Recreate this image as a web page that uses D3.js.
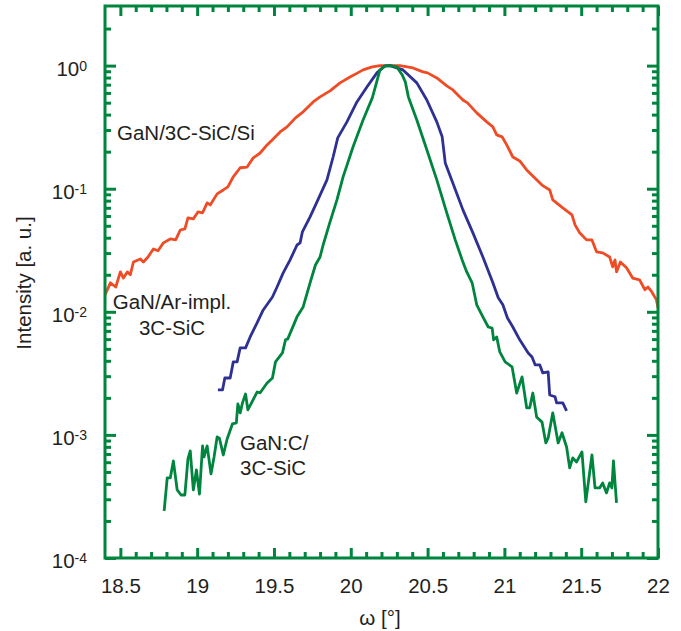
<!DOCTYPE html>
<html>
<head>
<meta charset="utf-8">
<script src="https://cdnjs.cloudflare.com/ajax/libs/d3/7.8.5/d3.min.js"></script>
<style>
  body { margin: 0; background: #fff; }
  text { font-family: "Liberation Sans", Arial, sans-serif; fill: #231f20; }
</style>
</head>
<body>
<div id="main"></div>
<script>
// rocking curves, [omega (deg), normalised intensity]
const gan3cSiCSi = [
  [18.40,0.0137],[18.435,0.0172],[18.47,0.0159],[18.50,0.0211],[18.52,0.0188],[18.545,0.0211],
  [18.565,0.0200],[18.585,0.0254],[18.63,0.0269],[18.65,0.0254],[18.68,0.0279],[18.715,0.0324],
  [18.745,0.0313],[18.78,0.0363],[18.825,0.0391],[18.86,0.0384],[18.89,0.0462],[18.92,0.0471],
  [18.94,0.0579],[18.975,0.0569],[19.005,0.0647],[19.035,0.0636],[19.065,0.0767],[19.085,0.0738],
  [19.13,0.0908],[19.17,0.0977],[19.20,0.1035],[19.235,0.125],[19.28,0.148],[19.325,0.150],
  [19.365,0.178],[19.41,0.195],[19.455,0.227],[19.495,0.254],[19.54,0.289],[19.585,0.318],
  [19.64,0.376],[19.69,0.421],[19.755,0.507],[19.80,0.557],[19.865,0.623],[19.93,0.724],
  [19.995,0.809],[20.045,0.873],[20.08,0.923],[20.14,0.976],[20.19,0.998],[20.255,1.0],
  [20.32,0.998],[20.405,0.957],[20.47,0.889],[20.50,0.873],[20.56,0.794],[20.625,0.684],
  [20.665,0.635],[20.73,0.526],[20.76,0.498],[20.82,0.413],[20.885,0.349],[20.925,0.318],
  [20.95,0.274],[20.985,0.264],[21.015,0.227],[21.055,0.181],[21.10,0.168],[21.145,0.142],
  [21.21,0.118],[21.245,0.107],[21.295,0.0977],[21.315,0.0811],[21.38,0.0698],[21.44,0.0612],
  [21.46,0.0508],[21.49,0.0438],[21.535,0.0384],[21.57,0.0384],[21.60,0.0307],[21.64,0.0301],
  [21.685,0.0279],[21.705,0.0232],[21.72,0.0264],[21.73,0.0211],[21.755,0.0254],[21.795,0.0228],
  [21.835,0.0188],[21.88,0.0182],[21.915,0.0151],[21.935,0.0159],[21.96,0.0145],[21.99,0.0125],
  [22.0,0.0108]
];

const ganArImpl = [
  [19.135,0.00232],[19.165,0.00232],[19.18,0.00290],[19.215,0.00290],[19.235,0.00392],[19.26,0.00392],
  [19.28,0.00509],[19.315,0.00509],[19.345,0.00625],[19.39,0.00813],[19.43,0.01035],[19.49,0.0132],
  [19.52,0.0159],[19.56,0.0207],[19.605,0.0264],[19.65,0.0349],[19.67,0.0363],[19.685,0.0446],
  [19.735,0.0590],[19.78,0.0782],[19.845,0.118],[19.885,0.181],[19.915,0.259],[19.975,0.349],
  [20.04,0.507],[20.105,0.671],[20.17,0.873],[20.22,0.99],[20.255,1.0],[20.34,0.923],
  [20.43,0.724],[20.495,0.526],[20.56,0.349],[20.595,0.264],[20.615,0.162],[20.665,0.111],
  [20.73,0.0673],[20.795,0.0438],[20.86,0.0279],[20.925,0.0172],[20.96,0.0130],[20.99,0.0114],
  [21.02,0.00891],[21.055,0.00753],[21.10,0.00592],[21.155,0.00463],[21.18,0.00430],[21.20,0.00371],
  [21.23,0.00371],[21.25,0.00319],[21.285,0.00325],[21.295,0.00211],[21.33,0.00204],[21.34,0.00182],
  [21.38,0.00182],[21.405,0.00157]
];

const ganC = [
  [18.785,0.000241],[18.805,0.000447],[18.825,0.000447],[18.845,0.000615],[18.87,0.000357],[18.895,0.000325],
  [18.92,0.000325],[18.94,0.000638],[18.955,0.000741],[18.975,0.000357],[18.995,0.000519],[19.015,0.000331],
  [19.035,0.000813],[19.045,0.000662],[19.065,0.000813],[19.09,0.000482],[19.11,0.000662],[19.13,0.000964],
  [19.145,0.00094],[19.17,0.000687],[19.195,0.000927],[19.23,0.00123],[19.255,0.00125],[19.265,0.00179],
  [19.28,0.00151],[19.295,0.00182],[19.315,0.00215],[19.33,0.00160],[19.39,0.00223],[19.41,0.00220],
  [19.455,0.00264],[19.49,0.00290],[19.51,0.00392],[19.555,0.00463],[19.575,0.00592],[19.59,0.00603],
  [19.65,0.00910],[19.69,0.01096],[19.735,0.0172],[19.77,0.0240],[19.80,0.0279],[19.82,0.0349],
  [19.865,0.0537],[19.91,0.0811],[19.95,0.1247],[20.015,0.219],[20.08,0.362],[20.14,0.547],
  [20.16,0.671],[20.19,0.923],[20.225,0.995],[20.255,1.0],[20.30,0.976],[20.335,0.840],
  [20.355,0.738],[20.375,0.557],[20.43,0.362],[20.495,0.207],[20.56,0.118],[20.625,0.0636],
  [20.68,0.0384],[20.725,0.0264],[20.755,0.0211],[20.79,0.0172],[20.82,0.0114],[20.86,0.00910],
  [20.895,0.00753],[20.92,0.00738],[20.93,0.00592],[20.95,0.00625],[20.97,0.00472],[21.005,0.00392],
  [21.05,0.00357],[21.08,0.00219],[21.115,0.00296],[21.145,0.00166],[21.165,0.00166],[21.185,0.00219],
  [21.21,0.00140],[21.245,0.00127],[21.27,0.000861],[21.285,0.000944],[21.315,0.00151],[21.35,0.000861],
  [21.375,0.00104],[21.405,0.000798],[21.425,0.000540],[21.445,0.000650],[21.47,0.000603],[21.505,0.000728],
  [21.53,0.000286],[21.57,0.000687],[21.59,0.000371],[21.62,0.000371],[21.64,0.000407],[21.665,0.000338],
  [21.685,0.000407],[21.70,0.000371],[21.71,0.000615],[21.73,0.000280]
];

const xMajor = [18.5, 19, 19.5, 20, 20.5, 21, 21.5, 22];
const yExponents = [-4, -3, -2, -1, 0];

const frameColor = '#00853f';
const W = 681, H = 631;
const pLeft = 105, pRight = 658, pTop = 6, pBottom = 558;

const svg = d3.select('#main')
  .append('svg')
  .attr('width', W)
  .attr('height', H);

const x = d3.scaleLinear().domain([18.4, 22]).range([pLeft, pRight]);
const y = d3.scaleLog().domain([1e-4, 3.05]).range([pBottom, pTop]);

const xMinor = d3.range(185, 220).map((d) => d / 10).filter((d) => !xMajor.includes(d));
const yMinor = [];
yExponents.forEach((e) => {
  for (let k = 2; k <= 9; k++) {
    const v = k * Math.pow(10, e);
    if (v <= 2) yMinor.push(v);
  }
});
const yMajor = yExponents.map((e) => Math.pow(10, e));

function styleAxis(g) {
  g.select('.domain').remove();
  g.selectAll('line').attr('stroke', frameColor).attr('stroke-width', 3);
}

// inward ticks on all four sides
svg.append('g').attr('transform', `translate(0,${pBottom})`)
  .call(d3.axisBottom(x).tickValues(xMinor).tickSize(-6).tickFormat(''))
  .call(styleAxis);
svg.append('g').attr('transform', `translate(0,${pTop})`)
  .call(d3.axisTop(x).tickValues(xMinor).tickSize(-6).tickFormat(''))
  .call(styleAxis);
svg.append('g').attr('transform', `translate(0,${pTop})`)
  .call(d3.axisTop(x).tickValues(xMajor).tickSize(-10).tickFormat(''))
  .call(styleAxis);

const xAxis = svg.append('g').attr('transform', `translate(0,${pBottom})`)
  .call(d3.axisBottom(x).tickValues(xMajor).tickSize(-10).tickPadding(20).tickFormat((d) => String(d)))
  .call(styleAxis);
xAxis.selectAll('text')
  .attr('font-family', '"Liberation Sans", Arial, sans-serif')
  .attr('font-size', '20.5px')
  .attr('fill', '#231f20');

svg.append('g').attr('transform', `translate(${pLeft},0)`)
  .call(d3.axisLeft(y).tickValues(yMinor).tickSize(-6).tickFormat(''))
  .call(styleAxis);
svg.append('g').attr('transform', `translate(${pLeft},0)`)
  .call(d3.axisLeft(y).tickValues(yMajor).tickSize(-11).tickFormat(''))
  .call(styleAxis);
svg.append('g').attr('transform', `translate(${pRight},0)`)
  .call(d3.axisRight(y).tickValues(yMinor).tickSize(-6).tickFormat(''))
  .call(styleAxis);
svg.append('g').attr('transform', `translate(${pRight},0)`)
  .call(d3.axisRight(y).tickValues(yMajor).tickSize(-11).tickFormat(''))
  .call(styleAxis);

// y tick labels as 10^n
const yLab = svg.selectAll('.ylab')
  .data(yExponents)
  .enter().append('text')
  .attr('class', 'ylab')
  .attr('x', 87)
  .attr('y', (d) => y(Math.pow(10, d)) + 10)
  .attr('text-anchor', 'end')
  .attr('font-size', '20.5px');
yLab.append('tspan').text('10');
yLab.append('tspan')
  .attr('font-size', '14px')
  .attr('dy', -5)
  .text((d) => String(d));

// curves
const line = d3.line()
  .x((d) => x(d[0]))
  .y((d) => y(d[1]));

const series = [
  { data: gan3cSiCSi, color: '#ef4b25' },
  { data: ganArImpl, color: '#2e3192' },
  { data: ganC, color: '#00853f' }
];

svg.selectAll('.curve')
  .data(series)
  .enter().append('path')
  .attr('class', 'curve')
  .attr('d', (d) => line(d.data))
  .attr('fill', 'none')
  .attr('stroke', (d) => d.color)
  .attr('stroke-width', 2.8)
  .attr('stroke-linejoin', 'round');

// frame
svg.append('rect')
  .attr('x', pLeft)
  .attr('y', pTop)
  .attr('width', pRight - pLeft)
  .attr('height', pBottom - pTop)
  .attr('fill', 'none')
  .attr('stroke', frameColor)
  .attr('stroke-width', 3);

// annotations
svg.append('text').attr('x', 117).attr('y', 140).attr('font-size', '20.5px').text('GaN/3C-SiC/Si');
svg.append('text').attr('x', 172).attr('y', 309).attr('text-anchor', 'middle').attr('font-size', '20.5px').text('GaN/Ar-impl.');
svg.append('text').attr('x', 172).attr('y', 335).attr('text-anchor', 'middle').attr('font-size', '20.5px').text('3C-SiC');
svg.append('text').attr('x', 240).attr('y', 450).attr('font-size', '20.5px').text('GaN:C/');
svg.append('text').attr('x', 240).attr('y', 475).attr('font-size', '20.5px').text('3C-SiC');

// axis titles
svg.append('text')
  .attr('x', 380)
  .attr('y', 625)
  .attr('text-anchor', 'middle')
  .attr('font-size', '20.5px')
  .text('ω [°]');

svg.append('text')
  .attr('transform', 'translate(31,283) rotate(-90)')
  .attr('text-anchor', 'middle')
  .attr('font-size', '20.5px')
  .text('Intensity [a. u.]');
</script>
</body>
</html>
